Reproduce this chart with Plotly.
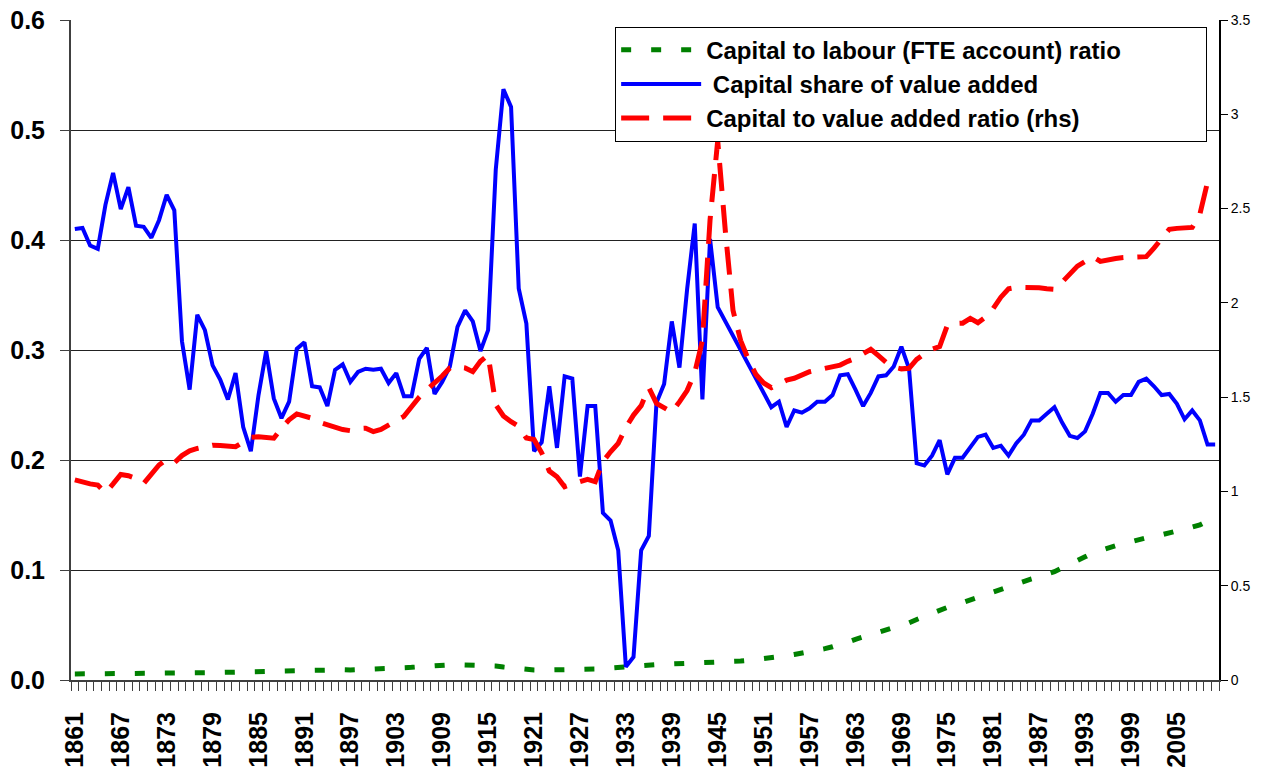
import plotly.graph_objects as go

years = list(range(1861, 2011))

capital_share = [
    0.410, 0.411, 0.395, 0.392, 0.432, 0.461, 0.428, 0.448, 0.413, 0.412,
    0.402, 0.418, 0.441, 0.427, 0.308, 0.264, 0.332, 0.318, 0.286, 0.273,
    0.255, 0.279, 0.230, 0.208, 0.259, 0.299, 0.256, 0.238, 0.253, 0.301,
    0.307, 0.267, 0.266, 0.249, 0.282, 0.287, 0.271, 0.280, 0.283, 0.282,
    0.283, 0.270, 0.279, 0.258, 0.258, 0.292, 0.302, 0.260, 0.271, 0.285,
    0.321, 0.336, 0.326, 0.299, 0.318, 0.464, 0.537, 0.521, 0.356, 0.324,
    0.208, 0.216, 0.267, 0.211, 0.276, 0.274, 0.185, 0.249, 0.249, 0.152,
    0.145, 0.118, 0.012, 0.021, 0.118, 0.131, 0.252, 0.269, 0.326, 0.284,
    0.355, 0.415, 0.255, 0.401, 0.339, 0.326, 0.313, 0.300, 0.288, 0.274,
    0.261, 0.248, 0.253, 0.230, 0.245, 0.243, 0.247, 0.253, 0.253, 0.259,
    0.277, 0.278, 0.264, 0.249, 0.261, 0.276, 0.277, 0.285, 0.303, 0.283,
    0.197, 0.195, 0.204, 0.218, 0.187, 0.202, 0.202, 0.212, 0.221, 0.223,
    0.211, 0.213, 0.204, 0.215, 0.223, 0.236, 0.236, 0.242, 0.248, 0.234,
    0.222, 0.220, 0.226, 0.242, 0.261, 0.261, 0.253, 0.259, 0.259, 0.271,
    0.274, 0.267, 0.259, 0.260, 0.251, 0.237, 0.245, 0.236, 0.214, 0.214,
]

capital_to_va = [
    1.061, 1.048, 1.040, 1.034, 0.993, 1.040, 1.090, 1.083, 1.068, 1.042,
    1.090, 1.140, 1.170, 1.152, 1.190, 1.215, 1.228, 1.236, 1.245, 1.244,
    1.238, 1.237, 1.262, 1.287, 1.290, 1.286, 1.282, 1.335, 1.380, 1.411,
    1.400, 1.388, 1.366, 1.352, 1.338, 1.328, 1.322, 1.333, 1.335, 1.317,
    1.329, 1.350, 1.372, 1.398, 1.449, 1.500, 1.540, 1.575, 1.612, 1.655,
    1.660, 1.655, 1.635, 1.690, 1.723, 1.460, 1.400, 1.370, 1.345, 1.283,
    1.275, 1.205, 1.108, 1.078, 1.025, 1.039, 1.050, 1.064, 1.052, 1.158,
    1.210, 1.255, 1.340, 1.405, 1.455, 1.550, 1.467, 1.440, 1.420, 1.475,
    1.535, 1.630, 1.800, 2.440, 2.860, 2.380, 1.960, 1.800, 1.700, 1.620,
    1.575, 1.550, 1.570, 1.590, 1.600, 1.620, 1.635, 1.644, 1.652, 1.660,
    1.670, 1.690, 1.706, 1.730, 1.754, 1.720, 1.685, 1.660, 1.650, 1.653,
    1.700, 1.730, 1.754, 1.768, 1.880, 1.890, 1.892, 1.918, 1.895, 1.925,
    1.970, 2.030, 2.075, 2.082, 2.082, 2.082, 2.080, 2.075, 2.072, 2.110,
    2.150, 2.195, 2.220, 2.245, 2.220, 2.230, 2.235, 2.240, 2.240, 2.240,
    2.245, 2.290, 2.340, 2.390, 2.395, 2.395, 2.400, 2.470, 2.640, 2.625,
]

capital_to_labour = [
    0.0055, 0.0055, 0.0055, 0.0055, 0.0055, 0.0055, 0.0056, 0.0056, 0.0056, 0.0057,
    0.0058, 0.0059, 0.0060, 0.0061, 0.0062, 0.0063, 0.0065, 0.0066, 0.0067, 0.0067,
    0.0067, 0.0068, 0.0070, 0.0072, 0.0075, 0.0078, 0.0080, 0.0082, 0.0085, 0.0088,
    0.0091, 0.0094, 0.0097, 0.0098, 0.0096, 0.0093, 0.0091, 0.0093, 0.0095, 0.0097,
    0.0098, 0.0101, 0.0105, 0.0110, 0.0115, 0.0120, 0.0126, 0.0131, 0.0136, 0.0138,
    0.0138, 0.0138, 0.0137, 0.0136, 0.0133, 0.0128, 0.0118, 0.0110, 0.0102, 0.0096,
    0.0091, 0.0090, 0.0090, 0.0090, 0.0091, 0.0092, 0.0094, 0.0097, 0.0100, 0.0105,
    0.0110, 0.0118, 0.0128, 0.0133, 0.0137, 0.0140, 0.0142, 0.0144, 0.0146, 0.0148,
    0.0150, 0.0152, 0.0155, 0.0157, 0.0160, 0.0163, 0.0167, 0.0172, 0.0178, 0.0185,
    0.0193, 0.0201, 0.0210, 0.0220, 0.0232, 0.0243, 0.0255, 0.0270, 0.0285, 0.0302,
    0.0320, 0.0345, 0.0370, 0.0390, 0.0410, 0.0430, 0.0450, 0.0472, 0.0495, 0.0520,
    0.0550, 0.0580, 0.0610, 0.0635, 0.0660, 0.0680, 0.0705, 0.0730, 0.0755, 0.0780,
    0.0805, 0.0830, 0.0855, 0.0880, 0.0900, 0.0920, 0.0940, 0.0960, 0.0985, 0.1020,
    0.1050, 0.1085, 0.1120, 0.1155, 0.1180, 0.1200, 0.1220, 0.1240, 0.1260, 0.1275,
    0.1290, 0.1310, 0.1320, 0.1335, 0.1350, 0.1370, 0.1390, 0.1410, 0.1445, 0.1480,
]

tick_years = list(range(1861, 2006, 6))
left_ticks = [0.0, 0.1, 0.2, 0.3, 0.4, 0.5, 0.6]
right_ticks = [0, 0.5, 1, 1.5, 2, 2.5, 3, 3.5]

FONT = "Liberation Sans, Arial, sans-serif"
PAD = "\u00a0" * 12

fig = go.Figure()
fig.add_trace(go.Scatter(
    x=years, y=capital_to_labour, mode="lines",
    name="Capital to labour (FTE account) ratio" + PAD,
    line=dict(color="#008000", width=5, dash="10px,20px"),
))
fig.add_trace(go.Scatter(
    x=years, y=capital_share, mode="lines",
    name="\u00a0Capital share of value added",
    line=dict(color="#0000FF", width=4),
))
fig.add_trace(go.Scatter(
    x=years, y=capital_to_va, mode="lines", yaxis="y2",
    name="Capital to value added ratio (rhs)",
    line=dict(color="#FF0000", width=5, dash="28px,14px"),
))

fig.update_layout(
    width=1273, height=770,
    margin=dict(l=71, r=54, t=20, b=90),
    paper_bgcolor="white", plot_bgcolor="white",
    font=dict(family=FONT, color="black"),
    showlegend=True,
    legend=dict(
        x=0.474, y=0.99, xanchor="left", yanchor="top",
        bgcolor="white", bordercolor="black", borderwidth=1,
        font=dict(family=FONT, size=24, color="black", weight="bold"),
        itemwidth=80, tracegroupgap=0,
    ),
    xaxis=dict(
        range=[1860.5, 2010.5], automargin=False,
        tickmode="array", tickvals=tick_years, ticktext=[str(y) for y in tick_years],
        tickangle=-90, ticks="", ticklabelstandoff=20, ticklabeloverflow="allow",
        tickfont=dict(family=FONT, size=25, color="black", weight="bold"),
        showgrid=False, zeroline=False,
        showline=True, linecolor="#404040", linewidth=2,
        minor=dict(tickmode="linear", tick0=1860.5, dtick=1, ticks="outside",
                   ticklen=9, tickcolor="#404040", tickwidth=1, showgrid=False),
    ),
    yaxis=dict(
        range=[0, 0.6], tickmode="array", tickvals=left_ticks, automargin=False,
        ticktext=[f"{v:.1f}" for v in left_ticks], ticklabeloverflow="allow",
        tickfont=dict(family=FONT, size=25, color="black", weight="bold"),
        showgrid=True, gridcolor="#222222", gridwidth=1,
        zeroline=False, showline=True, linecolor="#404040", linewidth=2,
        ticks="outside", ticklen=9, tickcolor="#404040", ticklabelstandoff=10,
    ),
    yaxis2=dict(
        range=[0, 3.5], overlaying="y", side="right", automargin=False,
        tickmode="array", tickvals=right_ticks, ticklabeloverflow="allow",
        ticktext=[f"{v:g}" for v in right_ticks],
        tickfont=dict(family=FONT, size=14, color="black"),
        showgrid=False, zeroline=False,
        showline=True, linecolor="black", linewidth=2,
        ticks="outside", ticklen=7, tickcolor="black",
    ),
)

fig.write_html("out.html", config={"displayModeBar": False},
               post_script="document.body.style.margin='0';")
